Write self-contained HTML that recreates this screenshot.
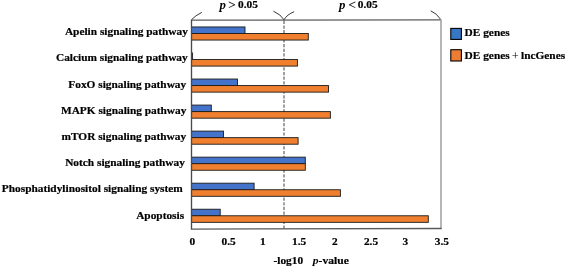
<!DOCTYPE html>
<html><head><meta charset="utf-8">
<style>
html,body{margin:0;padding:0;background:#fff;}
body{width:567px;height:268px;overflow:hidden;}
svg{display:block;will-change:transform;}
text{font-family:"Liberation Serif",serif;font-weight:bold;font-size:11.35px;fill:#000;stroke:#000;stroke-width:0.2px;}
.n{font-weight:normal;}
.i{font-style:italic;stroke-width:0;}
</style></head><body>
<svg width="567" height="268" viewBox="0 0 567 268">
<rect x="0" y="0" width="567" height="268" fill="#fff"/>
<line x1="191.5" y1="20.15" x2="440.8" y2="19.95" stroke="#5c5c5c" stroke-width="1.25"/>
<line x1="441.0" y1="19.5" x2="441.0" y2="228.6" stroke="#969696" stroke-width="1.4"/>
<line x1="284" y1="20.8" x2="284" y2="228.5" stroke="#555" stroke-width="1.1" stroke-dasharray="3.2,1.45"/>
<rect x="191.50" y="26.95" width="53.50" height="6.55" fill="#4473CC" stroke="#1a1a1a" stroke-width="0.9"/>
<rect x="191.50" y="33.50" width="116.80" height="6.55" fill="#F0802F" stroke="#1a1a1a" stroke-width="0.9"/>
<rect x="191.50" y="52.99" width="1.10" height="6.55" fill="#4473CC" stroke="#1a1a1a" stroke-width="0.9"/>
<rect x="191.50" y="59.54" width="105.90" height="6.55" fill="#F0802F" stroke="#1a1a1a" stroke-width="0.9"/>
<rect x="191.50" y="79.03" width="46.00" height="6.55" fill="#4473CC" stroke="#1a1a1a" stroke-width="0.9"/>
<rect x="191.50" y="85.58" width="137.00" height="6.55" fill="#F0802F" stroke="#1a1a1a" stroke-width="0.9"/>
<rect x="191.50" y="105.07" width="19.80" height="6.55" fill="#4473CC" stroke="#1a1a1a" stroke-width="0.9"/>
<rect x="191.50" y="111.62" width="138.90" height="6.55" fill="#F0802F" stroke="#1a1a1a" stroke-width="0.9"/>
<rect x="191.50" y="131.11" width="32.00" height="6.55" fill="#4473CC" stroke="#1a1a1a" stroke-width="0.9"/>
<rect x="191.50" y="137.66" width="106.60" height="6.55" fill="#F0802F" stroke="#1a1a1a" stroke-width="0.9"/>
<rect x="191.50" y="157.15" width="113.80" height="6.55" fill="#4473CC" stroke="#1a1a1a" stroke-width="0.9"/>
<rect x="191.50" y="163.70" width="113.80" height="6.55" fill="#F0802F" stroke="#1a1a1a" stroke-width="0.9"/>
<rect x="191.50" y="183.19" width="62.60" height="6.55" fill="#4473CC" stroke="#1a1a1a" stroke-width="0.9"/>
<rect x="191.50" y="189.74" width="148.90" height="6.55" fill="#F0802F" stroke="#1a1a1a" stroke-width="0.9"/>
<rect x="191.50" y="209.23" width="28.70" height="6.55" fill="#4473CC" stroke="#1a1a1a" stroke-width="0.9"/>
<rect x="191.50" y="215.78" width="236.80" height="6.55" fill="#F0802F" stroke="#1a1a1a" stroke-width="0.9"/>
<line x1="191.5" y1="19.8" x2="191.5" y2="229.3" stroke="#4a4a4a" stroke-width="1.35"/>
<line x1="190.9" y1="229.1" x2="441.7" y2="228.5" stroke="#5a5a5a" stroke-width="1.3"/>
<g fill="none" stroke="#383838" stroke-width="1.0">
<path d="M191.4,19.8 Q195.6,15.3 201.8,12.4"/>
<path d="M273.4,11.2 Q281,14.5 284,19.8 Q287,14.5 294.2,11.7"/>
<path d="M440.5,19.2 Q436.8,13.4 430.7,10.8"/>
</g>
<text x="64.93" y="35.00">Apelin signaling pathway</text>
<text x="55.98" y="61.00">Calcium signaling pathway</text>
<text x="68.35" y="88.00">FoxO signaling pathway</text>
<text x="60.98" y="114.00">MAPK signaling pathway</text>
<text x="61.50" y="140.00">mTOR signaling pathway</text>
<text x="65.15" y="166.00">Notch signaling pathway</text>
<text x="1.83" y="192.00">Phosphatidylinositol signaling system</text>
<text x="136.17" y="219.00">Apoptosis</text>
<text x="192.30" y="245" text-anchor="middle">0</text>
<text x="228.58" y="245" text-anchor="middle">0.5</text>
<text x="262.73" y="245" text-anchor="middle">1</text>
<text x="299.14" y="245" text-anchor="middle">1.5</text>
<text x="334.91" y="245" text-anchor="middle">2</text>
<text x="370.99" y="245" text-anchor="middle">2.5</text>
<text x="405.38" y="245" text-anchor="middle">3</text>
<text x="441.81" y="245" text-anchor="middle">3.5</text>
<text class="i" x="219.6" y="8.6" style="font-size:12.8px">p</text>
<text class="n" x="228.2" y="8.7" style="font-size:13px;stroke:#000;stroke-width:0.12px">&gt;</text>
<text x="238.1" y="8">0.05</text>
<text class="i" x="339.0" y="8.6" style="font-size:12.8px">p</text>
<text class="n" x="348.6" y="8.7" style="font-size:13px;stroke:#000;stroke-width:0.12px">&lt;</text>
<text x="357.8" y="8">0.05</text>
<text x="273.5" y="263.6">-log10</text>
<text x="312.8" y="263.6" textLength="36" lengthAdjust="spacingAndGlyphs"><tspan class="i">p</tspan>-value</text>
<rect x="450.8" y="28.4" width="10.6" height="11" fill="#3677c6" stroke="#000" stroke-width="1.1"/>
<text x="464.6" y="36">DE genes</text>
<rect x="450.8" y="49.7" width="10.6" height="11.3" fill="#ee7d33" stroke="#000" stroke-width="1.1"/>
<text x="464.6" y="58.7">DE genes</text>
<text class="n" x="511.7" y="60" style="font-size:12.4px;stroke-width:0">+</text>
<text x="521.0" y="58.7">lncGenes</text>
</svg>
</body></html>
